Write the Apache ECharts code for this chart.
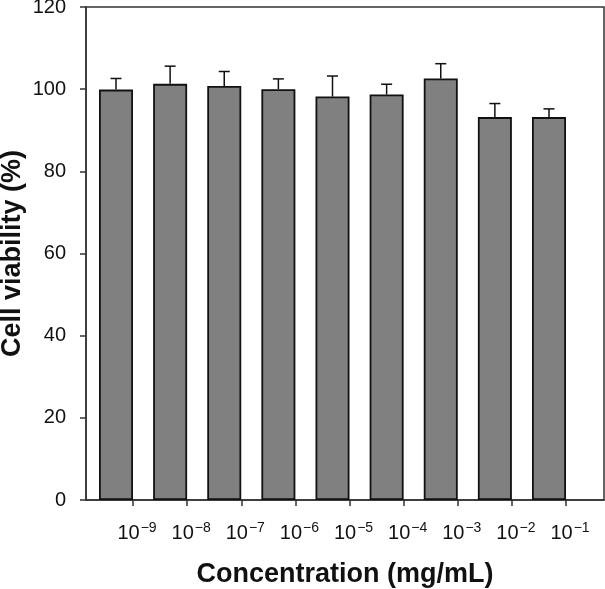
<!DOCTYPE html>
<html><head><meta charset="utf-8">
<script src="https://cdn.jsdelivr.net/npm/echarts@6/dist/echarts.min.js"></script>
<style>html,body{margin:0;padding:0;background:#fff}#c{width:605px;height:589px}</style>
</head><body><div id="c"></div>
<script>
var exponents = ['−9','−8','−7','−6','−5','−4','−3','−2','−1'];
var viability = [99.9, 101.3, 100.8, 100.0, 98.2, 98.7, 102.6, 93.2, 93.2];
var errors = [2.7, 4.3, 3.5, 2.5, 5.0, 2.5, 3.6, 3.3, 2.0];
var yTicks = [0, 20, 40, 60, 80, 100, 120];

var FONT = 'Liberation Sans, Arial, sans-serif';
var BAR_W = 34;
var chart = echarts.init(document.getElementById('c'));
var option = {
  animation: false,
  grid: [
    {left: 86, right: 1, top: 7, bottom: 89, containLabel: false, outerBoundsMode: 'none',
     show: true, borderColor: '#333', borderWidth: 1.5, backgroundColor: 'transparent'},
    {left: 133, right: 39, top: 7, bottom: 89, containLabel: false, outerBoundsMode: 'none'}
  ],
  xAxis: [
    {gridIndex: 0, type: 'value', min: 0, max: 1, axisLabel: {show: false}, axisTick: {show: false}, splitLine: {show: false},
     axisLine: {show: true, lineStyle: {color: '#333', width: 1.5}},
     name: 'Concentration (mg/mL)', nameLocation: 'middle', nameGap: 61,
     nameTextStyle: {fontFamily: FONT, fontWeight: 'bold', fontSize: 27, color: '#111'}},
    {gridIndex: 1, type: 'category', boundaryGap: false, data: exponents,
     axisLine: {show: false},
     axisTick: {show: true, length: 6, lineStyle: {color: '#333', width: 1.5}},
     axisLabel: {interval: 0, margin: 21, fontFamily: FONT, padding: [0, 0, 0, 8],
       formatter: function (v) { return '{b|10}{s|' + v + '}'; },
       rich: {b: {fontSize: 20, fontFamily: FONT, color: '#111'},
              s: {fontSize: 14, fontFamily: FONT, color: '#111', padding: [0, 0, 10, 1]}}}}
  ],
  yAxis: [
    {gridIndex: 0, type: 'value', min: yTicks[0], max: yTicks[yTicks.length - 1], interval: 20,
     splitLine: {show: false},
     axisLine: {show: true, lineStyle: {color: '#333', width: 1.5}},
     axisTick: {show: true, length: 6, lineStyle: {color: '#333', width: 1.5}},
     axisLabel: {margin: 20, fontFamily: FONT, fontSize: 20, color: '#111'},
     name: 'Cell viability (%)', nameLocation: 'middle', nameGap: 60, nameMoveOverlap: false,
     nameTextStyle: {fontFamily: FONT, fontWeight: 'bold', fontSize: 27, color: '#111'}},
    {gridIndex: 1, type: 'value', min: yTicks[0], max: yTicks[yTicks.length - 1], show: false}
  ],
  series: [
    {type: 'bar', xAxisIndex: 1, yAxisIndex: 1, data: viability, barWidth: BAR_W, barGap: '0%', clip: false,
     itemStyle: {color: '#808080', borderColor: '#111', borderWidth: 1.8}, z: 2},
    {type: 'bar', xAxisIndex: 1, yAxisIndex: 1, data: viability.map(function () { return '-'; }), barWidth: BAR_W, barGap: '0%', clip: false},
    {type: 'custom', xAxisIndex: 1, yAxisIndex: 1, clip: false, z: 3,
     data: viability.map(function (v, i) { return [i, v, v + errors[i]]; }),
     renderItem: function (params, api) {
       var base = api.coord([api.value(0), api.value(1)]);
       var top = api.coord([api.value(0), api.value(2)]);
       var x = base[0] - BAR_W / 2;
       var st = {stroke: '#111', lineWidth: 1.5};
       return {type: 'group', children: [
         {type: 'line', shape: {x1: x, y1: base[1], x2: x, y2: top[1]}, style: st},
         {type: 'line', shape: {x1: x - 5.5, y1: top[1], x2: x + 5.5, y2: top[1]}, style: st}
       ]};
     }}
  ]
};
chart.setOption(option);
</script></body></html>
